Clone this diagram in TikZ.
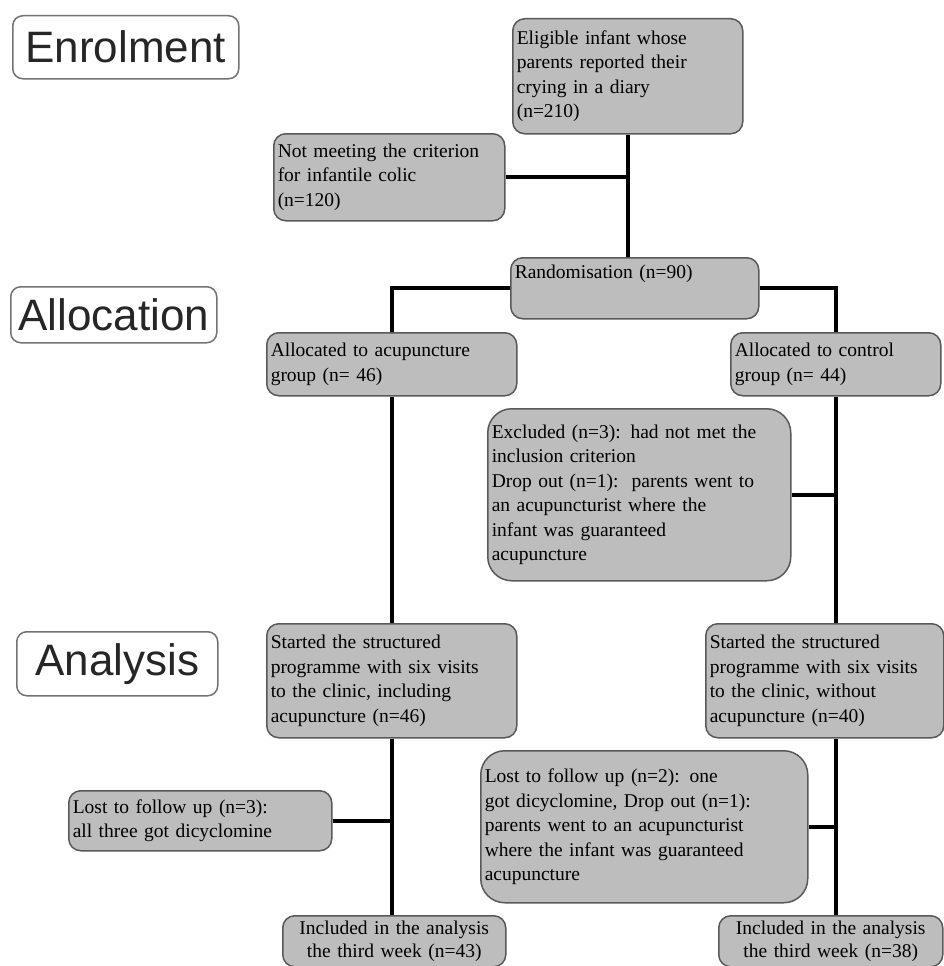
\documentclass[tikz,border=0pt]{standalone}
\usepackage{fontspec}
\setmainfont{Liberation Serif}
\newfontfamily\phasefont{Liberation Sans}
\usepackage{tikz}
\usetikzlibrary{positioning,calc}

\newcommand{\boxfont}{\fontsize{19.5}{24.5}\selectfont}

\begin{document}
\begin{tikzpicture}[
    x=1pt, y=-1pt,
    box/.style={draw=black!65, line width=1.5pt, fill=black!26, rounded corners=12pt, anchor=north west, align=left, inner sep=4pt, font=\boxfont},
    bigbox/.style={box, rounded corners=24pt},
    endbox/.style={box, align=center, inner sep=2pt, font=\fontsize{19.5}{23}\selectfont},
    phase/.style={draw=black!55, line width=1.5pt, fill=white, rounded corners=10pt, anchor=north west, inner sep=0pt, text=black!85, font=\phasefont\fontsize{44}{50}\selectfont},
    link/.style={draw=black, line width=4pt}
]
    \useasboundingbox (0,0) rectangle (944,966);
    \clip (0,0) rectangle (944,966);

    % Phase labels
    \node[phase, minimum width=226pt, minimum height=63pt] (enrol) at (12,15) {Enrolment};
    \node[phase, minimum width=206pt, minimum height=56pt] (alloc) at (10,286) {Allocation};
    \node[phase, minimum width=201pt, minimum height=64pt] (analys) at (16,631) {Analysis};

    % Nodes
    \node[box, minimum width=230pt, minimum height=115pt, text width=222pt] (elig) at (512,18)
        {Eligible infant whose\\parents reported their\\crying in a diary\\(n=210)};
    \node[box, minimum width=231pt, minimum height=87pt, text width=223pt] (notmeet) at (273,133)
        {Not meeting the criterion\\for infantile colic\\(n=120)};
    \node[box, minimum width=248pt, minimum height=61pt, text width=240pt, text depth=34pt] (rand) at (510,257)
        {Randomisation (n=90)};

    \node[box, minimum width=250pt, minimum height=63pt, text width=242pt] (allocA) at (266,332)
        {Allocated to acupuncture\\group (n= 46)};
    \node[box, minimum width=210pt, minimum height=63pt, text width=202pt] (allocC) at (730,332)
        {Allocated to control\\group (n= 44)};
    \node[bigbox, minimum width=303pt, minimum height=172pt, text width=295pt] (excl) at (487,408)
        {Excluded (n=3): had not met the\\inclusion criterion\\Drop out (n=1):\ \ parents went to\\an acupuncturist where the\\infant was guaranteed\\acupuncture};

    \node[box, minimum width=250pt, minimum height=114pt, text width=242pt] (startA) at (266,623)
        {Started the structured\\programme with six visits\\to the clinic, including\\acupuncture (n=46)};
    \node[box, minimum width=238pt, minimum height=114pt, text width=230pt] (startC) at (705,623)
        {Started the structured\\programme with six visits\\to the clinic, without\\acupuncture (n=40)};

    \node[box, minimum width=263pt, minimum height=60pt, text width=255pt] (lostA) at (68,790)
        {Lost to follow up (n=3):\\all three got dicyclomine};
    \node[bigbox, minimum width=327pt, minimum height=152pt, text width=319pt] (lostC) at (480,750)
        {Lost to follow up (n=2): one\\got dicyclomine, Drop out (n=1):\\parents went to an acupuncturist\\where the infant was guaranteed\\acupuncture};

    \node[endbox, minimum width=223pt, minimum height=51pt, text width=219pt] (inclA) at (282,915)
        {Included in the analysis\\the third week (n=43)};
    \node[endbox, minimum width=224pt, minimum height=51pt, text width=220pt] (inclC) at (718,915)
        {Included in the analysis\\the third week (n=38)};

    % Lines
    \path[link] (elig.south) -- (elig.south |- rand.north);
    \path[link] (notmeet.east) -- (elig.south |- notmeet.east);
    \path[link] (rand.west) -| (allocA.north);
    \path[link] (rand.east) -| (allocC.north);
    \path[link] (allocA.south) -- (allocA.south |- startA.north);
    \path[link] (allocC.south) -- (allocC.south |- startC.north);
    \path[link] (excl.east) -- (allocC.south |- excl.east);
    \path[link] (startA.south) -- (startA.south |- inclA.north);
    \path[link] (lostA.east) -- (startA.south |- lostA.east);
    \path[link] (allocC.south |- startC.south) -- (allocC.south |- inclC.north);
    \path[link] (lostC.east) -- (allocC.south |- lostC.east);
\end{tikzpicture}
\end{document}
